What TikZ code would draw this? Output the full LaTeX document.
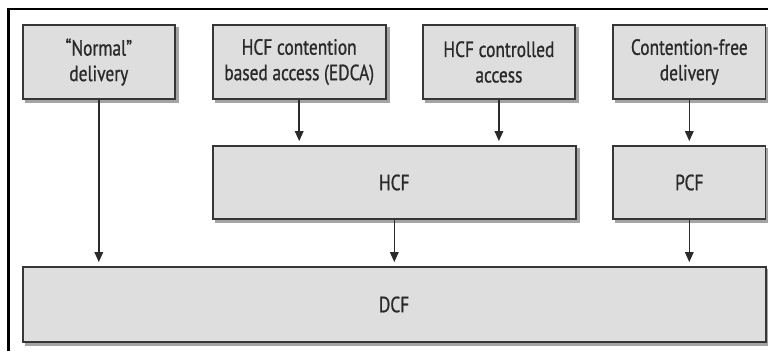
\documentclass[tikz,border=0pt]{standalone}
\usepackage{fontspec}
\setmainfont{PT Sans}[FakeStretch=0.79,FakeBold=0.9]
\usetikzlibrary{arrows.meta}
\definecolor{boxfill}{HTML}{DEDEDE}
\definecolor{boxline}{HTML}{363636}
\definecolor{shade}{HTML}{A4A4A4}
\definecolor{ink}{HTML}{2A2A2A}
\begin{document}
\begin{tikzpicture}[x=1pt,y=-1pt,
  blk/.style={rectangle, draw=boxline, line width=1.8pt, fill=boxfill,
    inner sep=0pt, align=center, text=ink,
    font=\fontsize{22}{25.5}\selectfont,
    preaction={fill=shade, draw=shade, line width=1.8pt,
      transform canvas={xshift=3pt,yshift=-3pt}}},
  link/.style={draw=ink, line width=1.6pt,
    -{Triangle[length=10pt,width=8.5pt]}, shorten >=4pt}]
\useasboundingbox (0,0) rectangle (768,351);
\fill[white] (0,0) rectangle (768,351);
% frame rules along the top and left
\draw[line width=2.5pt] (8.7,351) -- (8.7,9.2) -- (768,9.2);

% top row of services
\node[blk, minimum width=152pt, minimum height=74pt] (normal) at (98.8,62) {“Normal”\\delivery};
\node[blk, minimum width=173pt, minimum height=74pt] (edca) at (299.2,62) {HCF contention\\based access (EDCA)};
\node[blk, minimum width=152pt, minimum height=74pt] (hcca) at (498.9,62) {HCF controlled\\access};
\node[blk, minimum width=152.5pt, minimum height=74pt] (cfree) at (689.3,62) {Contention-free\\delivery};

% coordination functions
\node[blk, minimum width=363pt, minimum height=73pt] (hcf) at (394.3,182.5) {HCF};
\node[blk, minimum width=152.5pt, minimum height=73pt] (pcf) at (689.3,182.5) {PCF};
\node[blk, minimum width=743pt, minimum height=75pt] (dcf) at (394.1,304.5) {DCF};

% connectors
\draw[link] (normal.south) -- (normal.south |- dcf.north);
\draw[link] (edca.south) -- (edca.south |- hcf.north);
\draw[link] (hcca.south) -- (hcca.south |- hcf.north);
\draw[link] (cfree.south) -- (cfree.south |- pcf.north);
\draw[link] (hcf.south) -- (hcf.south |- dcf.north);
\draw[link] (pcf.south) -- (pcf.south |- dcf.north);
\end{tikzpicture}
\end{document}
